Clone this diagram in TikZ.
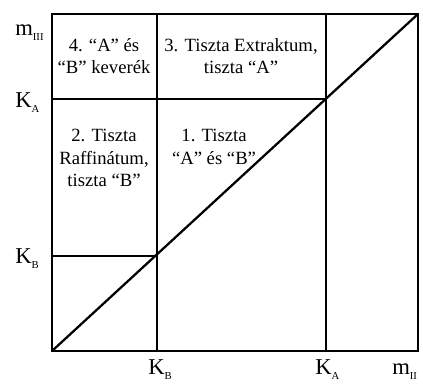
\documentclass[tikz,border=0pt]{standalone}
\usepackage{fontspec}
\setmainfont{Liberation Serif}
\newcommand{\lblsub}[2]{#1\raisebox{-4pt}{\fontsize{8}{8}\selectfont #2}}
\begin{document}
\begin{tikzpicture}[x=0.75pt,y=-0.75pt,
  grid/.style={line width=1.2pt},
  diag/.style={line width=1.7pt},
  celltext/.style={align=center,inner sep=0pt,font=\fontsize{14}{17}\selectfont},
  axlabel/.style={anchor=base west,inner sep=0pt,font=\fontsize{17}{17}\selectfont}]
\useasboundingbox (0,0) rectangle (423,383);
\coordinate (O) at (52,351);
\coordinate (TR) at (418,14);
\coordinate (KBb) at (157,351);
\coordinate (KBt) at (157,14);
\coordinate (KAb) at (326,351);
\coordinate (KAt) at (326,14);
\coordinate (KAl) at (52,99);
\coordinate (KAr) at (326,99);
\coordinate (KBl) at (52,256);
\coordinate (KBr) at (157,256);
\draw[grid] (O) rectangle (TR);
\draw[grid] (KBb) -- (KBt);
\draw[grid] (KAb) -- (KAt);
\draw[grid] (KAl) -- (KAr);
\draw[grid] (KBl) -- (KBr);
\draw[diag] (O) -- (TR);
\node[celltext] (c4) at (104,56) {4. “A” és\\“B” keverék};
\node[celltext] (c3) at (241,56) {3. Tiszta Extraktum,\\tiszta “A”};
\node[celltext] (c2) at (104,158) {2. Tiszta\\Raffinátum,\\tiszta “B”};
\node[celltext] (c1) at (214,147) {1. Tiszta\\“A” és “B”};
\node[axlabel] (mIII) at (15,35) {\lblsub{m}{III}};
\node[axlabel] (KAy) at (15,107) {\lblsub{K}{A}};
\node[axlabel] (KBy) at (15,263) {\lblsub{K}{B}};
\node[axlabel] (KBx) at (148,374) {\lblsub{K}{B}};
\node[axlabel] (KAx) at (315,374) {\lblsub{K}{A}};
\node[axlabel] (mII) at (392,374) {\lblsub{m}{II}};
\end{tikzpicture}
\end{document}
